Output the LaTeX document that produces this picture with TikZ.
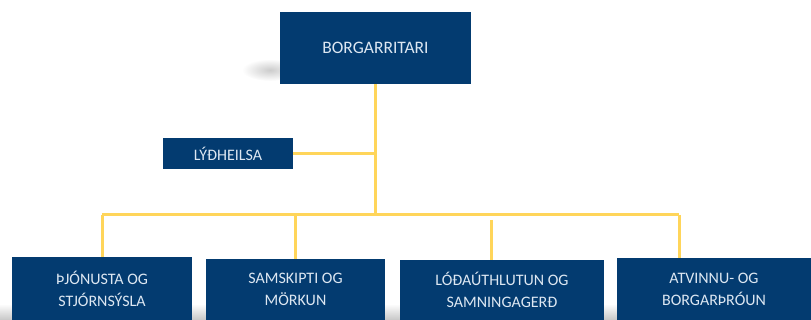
\documentclass[tikz,border=0pt]{standalone}
\usepackage{fontspec}
\setmainfont{Carlito}
\definecolor{boxblue}{HTML}{033B70}
\definecolor{boxtext}{HTML}{DDE7F2}
\definecolor{linegold}{HTML}{FFD55A}
\begin{document}
\begin{tikzpicture}[x=1pt,y=-1pt,
  orgbox/.style={fill=boxblue,draw=none,text=boxtext,align=center,inner sep=0pt,font=\fontsize{16}{22}\selectfont},
  conn/.style={draw=linegold,line width=3pt},
  softshadow/.style={draw=none,top color=white,bottom color=black!22}]
\useasboundingbox (0,0) rectangle (811,320);
% faint shadows
\shade[inner color=black!20,outer color=white,draw=none] (270,70) ellipse [x radius=28pt,y radius=11pt];
\shade[softshadow] (0,304) rectangle (12,320);
\shade[softshadow] (192,304) rectangle (206,320);
\shade[softshadow] (385,304) rectangle (400,320);
\shade[softshadow] (604,304) rectangle (617,320);
\node[orgbox,minimum width=191pt,minimum height=72pt,font=\fontsize{17.5}{21}\selectfont] (top) at (375.5,48) {BORGARRITARI};
\node[orgbox,minimum width=130pt,minimum height=31pt,font=\fontsize{16}{19}\selectfont] (lyd) at (228,154) {LÝÐHEILSA};
\node[orgbox,minimum width=180pt,minimum height=63pt] (b1) at (102,288.5) {ÞJÓNUSTA OG\\STJÓRNSÝSLA};
\node[orgbox,minimum width=179pt,minimum height=61pt] (b2) at (295.5,289.5) {SAMSKIPTI  OG\\MÖRKUN};
\node[orgbox,minimum width=204pt,minimum height=60pt] (b3) at (502,290) {LÓÐAÚTHLUTUN OG\\SAMNINGAGERÐ};
\node[orgbox,minimum width=194pt,minimum height=62pt] (b4) at (714,289) {ATVINNU- OG\\BORGARÞRÓUN};
\coordinate (hub) at (375.5,215);
\coordinate (lydj) at (375.5,154);
\coordinate (busL) at (102,215);
\coordinate (busR) at (679,215);
\coordinate (j2) at (295,215);
\coordinate (j3) at (491,220);
\draw[conn] (top.south) -- (hub);
\draw[conn] (lyd.east) -- (lydj);
\draw[conn] (busL) -- (busR);
\draw[conn] (busL) -- (b1.north);
\draw[conn] (j2) -- (j2 |- b2.north);
\draw[conn] (j3) -- (j3 |- b3.north);
\draw[conn] (busR) -- (busR |- b4.north);
\end{tikzpicture}
\end{document}
